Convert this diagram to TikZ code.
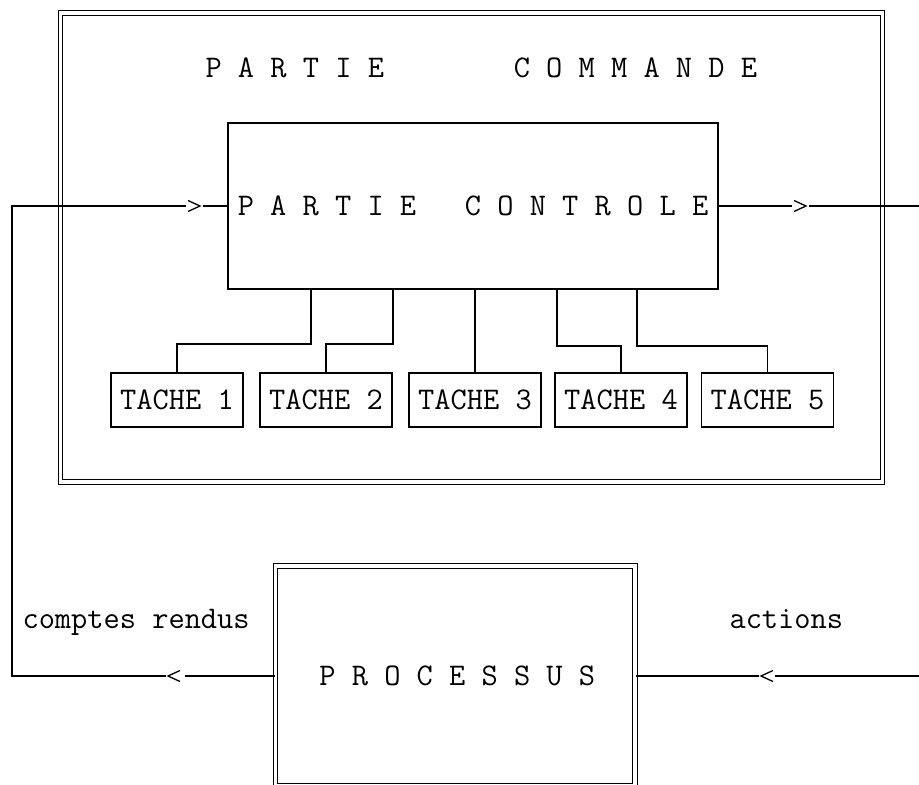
\documentclass[tikz,border=0pt]{standalone}
\usepackage{fontspec}
\begin{document}
\begin{tikzpicture}[x=1pt,y=-1pt,
  every node/.style={font=\ttfamily\fontsize{31.5}{34}\selectfont},
  ln/.style={line width=1.3pt},
  dbox/.style={draw,line width=1.1pt,double,double distance=3.2pt,inner sep=0pt},
  sbox/.style={draw,line width=1.3pt,inner sep=0pt},
  tbox/.style={sbox,minimum width=132pt,minimum height=54pt}]
\useasboundingbox (0,0) rectangle (919,785);
\clip (0,0) rectangle (919,785);
% outer frame
\node[dbox,minimum width=822pt,minimum height=469pt] (cmd) at (471.5,247.5) {};
\node[anchor=base west] (title) at (202,77) {P A R T I E~~~~~~~~C O M M A N D E};
% control box
\node[sbox,minimum width=490pt,minimum height=166pt] (ctrl) at (473,206) {P A R T I E~~~C O N T R O L E};
% tasks
\node[tbox] (t1) at (177,400) {TACHE 1};
\node[tbox] (t2) at (326,400) {TACHE 2};
\node[tbox] (t3) at (475,400) {TACHE 3};
\node[tbox] (t4) at (621,400) {TACHE 4};
\node[tbox] (t5) at (767.5,400) {TACHE 5};
\draw[ln] (ctrl.south -| 311,0) -- (311,344) -| (t1.north);
\draw[ln] (ctrl.south -| 393,0) -- (393,344) -| (t2.north);
\draw[ln] (ctrl.south -| t3.north) -- (t3.north);
\draw[ln] (ctrl.south -| 557,0) -- (557,346) -| (t4.north);
\draw[ln] (ctrl.south -| 637,0) -- (637,346) -| (t5.north);
% process box
\node[dbox,minimum width=359.5pt,minimum height=220pt] (proc) at (455.25,676) {\hspace*{4pt}P R O C E S S U S};
% labels
\node[anchor=base west] (cr) at (19,628) {comptes rendus};
\node[anchor=base west] (act) at (726,628) {actions};
% chevron points
\coordinate (k1) at (ctrl.west -| 200,0);
\coordinate (k2) at (ctrl.east -| 806,0);
\coordinate (k3) at (proc.west -| 168,0);
\coordinate (k4) at (proc.east -| 761,0);
\coordinate (fa) at (ctrl.west -| 12,0);
\coordinate (fb) at (proc.west -| 12,0);
\coordinate (ra) at (ctrl.east -| 925,0);
\coordinate (rb) at (proc.east -| 925,0);
% feedback loop (comptes rendus)
\draw[ln] (proc.west) -- ([xshift=17pt]k3);
\draw[ln] ([xshift=12pt,yshift=-5.5pt]k3) -- (k3) -- ([xshift=12pt,yshift=5.5pt]k3);
\draw[ln] ([xshift=-2pt]k3) -- (fb) -- (fa) -- ([xshift=-14pt]k1);
\draw[ln] ([xshift=-12pt,yshift=-5.5pt]k1) -- (k1) -- ([xshift=-12pt,yshift=5.5pt]k1);
\draw[ln] ([xshift=3pt]k1) -- (ctrl.west);
% output (actions)
\draw[ln] (ctrl.east) -- ([xshift=-14pt]k2);
\draw[ln] ([xshift=-12pt,yshift=-5.5pt]k2) -- (k2) -- ([xshift=-12pt,yshift=5.5pt]k2);
\draw[ln] ([xshift=3pt]k2) -- (ra);
\draw[ln] (rb) -- ([xshift=14pt]k4);
\draw[ln] ([xshift=12pt,yshift=-5.5pt]k4) -- (k4) -- ([xshift=12pt,yshift=5.5pt]k4);
\draw[ln] ([xshift=-2pt]k4) -- (proc.east);
\end{tikzpicture}
\end{document}
